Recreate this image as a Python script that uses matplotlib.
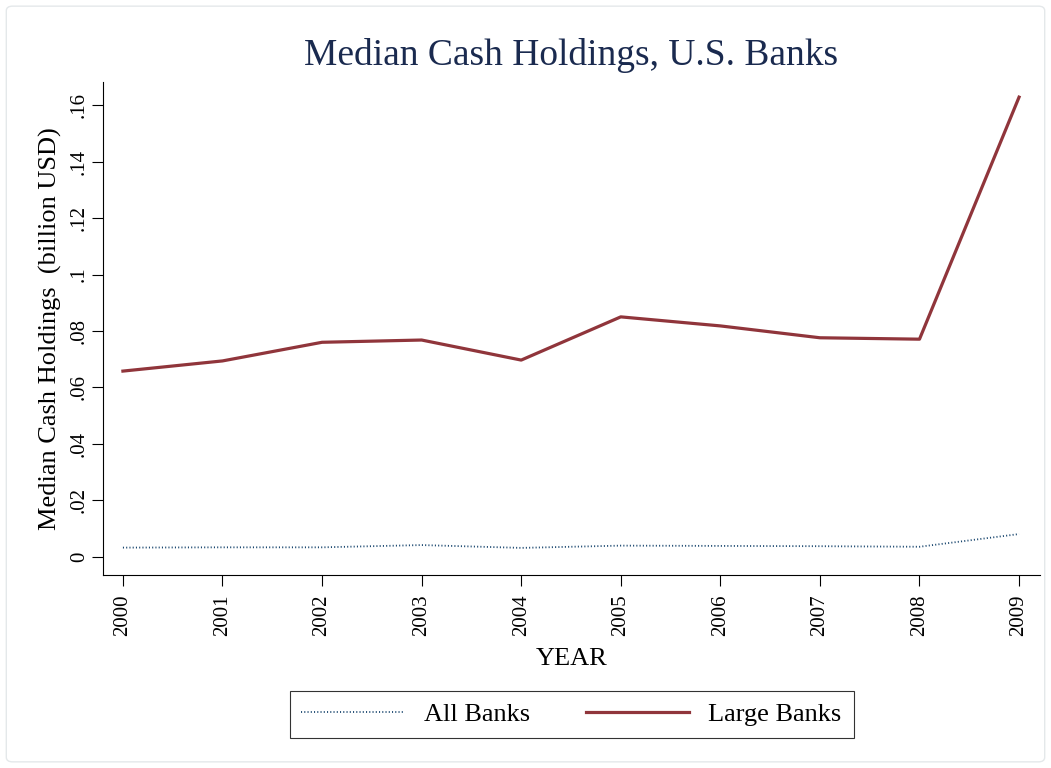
import matplotlib.pyplot as plt
from matplotlib.patches import FancyBboxPatch

years = [2000, 2001, 2002, 2003, 2004, 2005, 2006, 2007, 2008, 2009]
all_banks = [0.0033, 0.0034, 0.0034, 0.0042, 0.0032, 0.0040, 0.0039, 0.0038, 0.0036, 0.0081]
large_banks = [0.0658, 0.0694, 0.0760, 0.0768, 0.0697, 0.0850, 0.0818, 0.0776, 0.0771, 0.1628]
yticks = [0, 0.02, 0.04, 0.06, 0.08, 0.10, 0.12, 0.14, 0.16]
ytick_labels = ['0', '.02', '.04', '.06', '.08', '.1', '.12', '.14', '.16']

plt.rcParams['font.family'] = ['Liberation Serif', 'DejaVu Serif']

fig = plt.figure(figsize=(10.51, 7.68), dpi=100)
ax = fig.add_axes([0.098, 0.2513, 0.8915, 0.6417])

# light outer frame like Stata graph region
fig.patches.append(FancyBboxPatch((0.006, 0.008), 0.988, 0.984,
                                  boxstyle='round,pad=0,rounding_size=0.006',
                                  transform=fig.transFigure, facecolor='none',
                                  edgecolor='#e4e8ea', linewidth=1.0))

ax.plot(years, all_banks, color='#1a476f', linestyle=(0, (0.6, 1.2)),
        linewidth=1.3, label='All Banks')
ax.plot(years, large_banks, color='#90353b', linewidth=2.3, label='Large Banks')

ax.set_xlim(1999.8, 2009.21)
ax.set_ylim(-0.0064, 0.1681)
ax.set_xticks(years)
ax.set_xticklabels([str(y) for y in years], rotation=90, fontsize=15)
ax.set_yticks(yticks)
ax.set_yticklabels(ytick_labels, rotation=90, va='center', fontsize=15)
ax.tick_params(direction='out', length=8, width=0.8, color='black')
ax.tick_params(axis='x', pad=6)
ax.tick_params(axis='y', pad=2)

for s in ['top', 'right']:
    ax.spines[s].set_visible(False)
for s in ['left', 'bottom']:
    ax.spines[s].set_linewidth(0.8)

ax.set_xlabel('YEAR', fontsize=19, va='center')
ax.xaxis.set_label_coords(0.5, -0.170)
ax.set_ylabel('Median Cash Holdings  (billion USD)', fontsize=19, va='center')
ax.yaxis.set_label_coords(-0.056, 0.5)
fig.text(0.543, 0.928, 'Median Cash Holdings, U.S. Banks', fontsize=27,
         color='#1a2a4f', ha='center', va='center')

leg = fig.legend(loc='center', bbox_to_anchor=(0.5438, 0.0697), ncol=2,
                 fontsize=19, frameon=True, fancybox=False, edgecolor='black',
                 handlelength=3.9, columnspacing=2.1, handletextpad=0.75,
                 borderpad=0.45)
leg.get_frame().set_linewidth(0.8)

fig.savefig('out.png', dpi=100, facecolor='white')
